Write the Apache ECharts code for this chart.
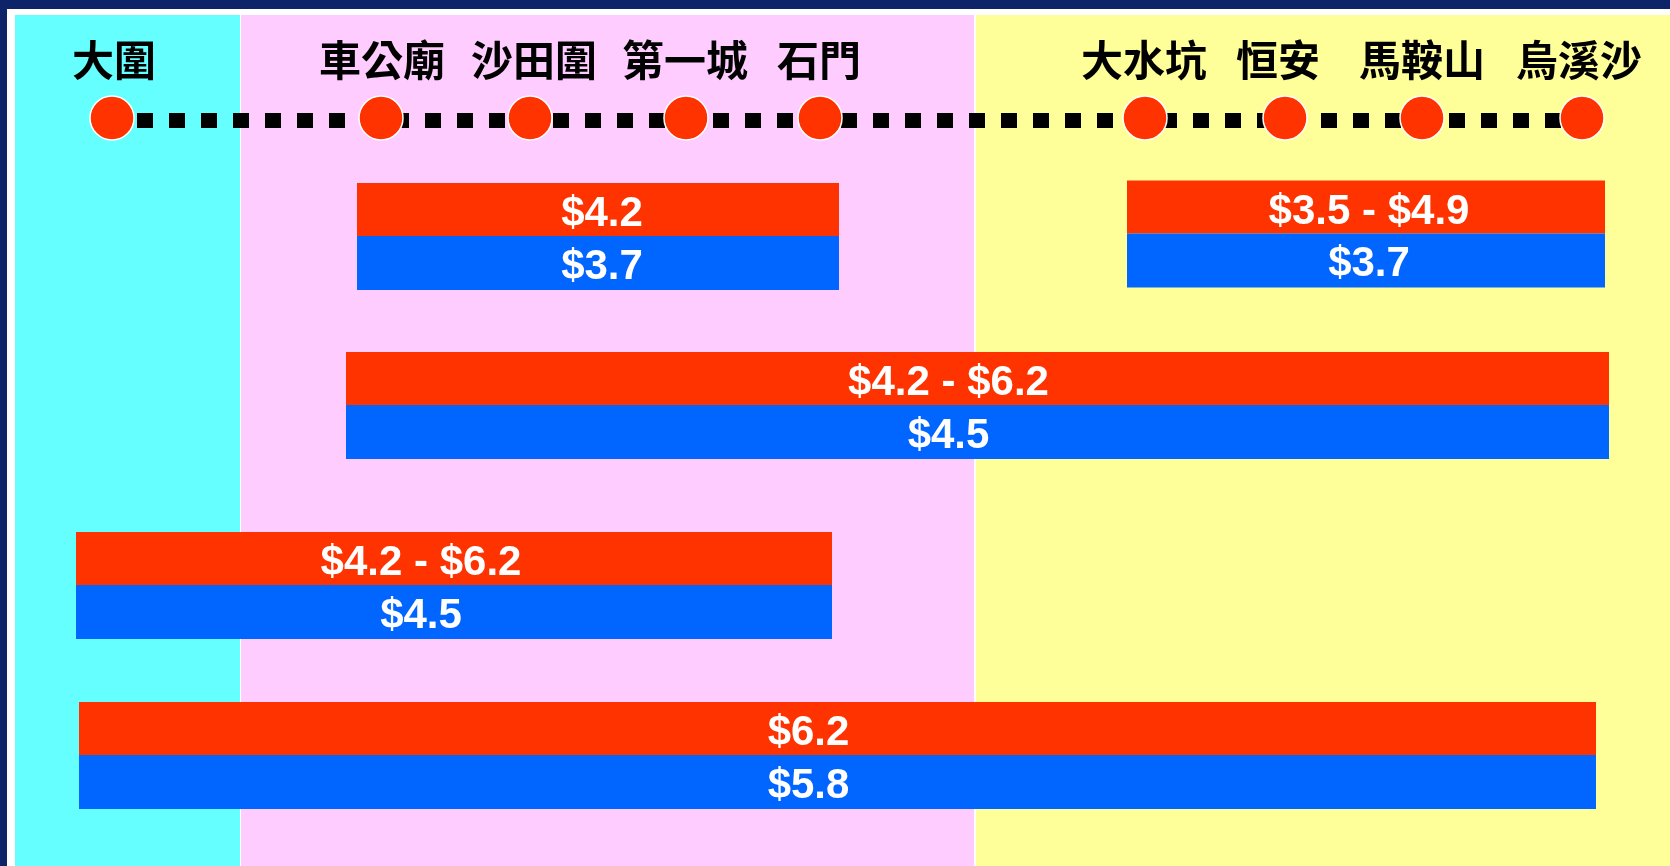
<!DOCTYPE html>
<html>
<head>
<meta charset="utf-8">
<script src="https://cdn.jsdelivr.net/npm/echarts@6/dist/echarts.min.js"></script>
<style>
  html, body { margin: 0; padding: 0; background: #fff; }
  #fareChart { width: 1670px; height: 866px; }
</style>
</head>
<body>
<div id="fareChart"></div>
<script>
// stations along the line, left to right, and where each sits on the strip
var stations = ['大圍', '車公廟', '沙田圍', '第一城', '石門', '大水坑', '恒安', '馬鞍山', '烏溪沙'];
var stationPos = [112, 381, 530, 686, 820, 1145, 1285, 1422, 1582];

// fare zones (cyan / pink / yellow), start and end on the strip
var zoneStart = [15, 241, 976];
var zoneEnd = [240, 974, 1670];

// fare sections: how far each bar reaches along the strip
var fareFrom = [357, 1127, 346, 76, 79];
var fareTo = [839, 1605, 1609, 832, 1596];
var topFare = ['$4.2', '$3.5 - $4.9', '$4.2 - $6.2', '$4.2 - $6.2', '$6.2'];
var bottomFare = ['$3.7', '$3.7', '$4.5', '$4.5', '$5.8'];

// layout
var rowY = [236, 233.5, 405, 585, 755];   // red/blue seam of each row
var labelNudge = [4, 3, -29, -33, -29];
var nameNudge = [2, 1, 4, -1, -1, -1, -7, 0, -3];
var TRACK_Y = 120.5, DOT_Y = 118, NAME_OFFSET = -58;
var RED_H = 53, BLUE_H = 54;
var zoneColors = ['#66FFFF', '#FFCCFF', '#FFFF99'];

var chart = echarts.init(document.getElementById('fareChart'));

var zones = [];
for (var i = 0; i < zoneStart.length; i++) {
    zones.push([
        { xAxis: zoneStart[i], itemStyle: { color: zoneColors[i], opacity: 1 } },
        { xAxis: zoneEnd[i] }
    ]);
}

var track = [], dots = [], fares = [];
for (var i = 0; i < stations.length; i++) {
    track.push([stationPos[i], TRACK_Y]);
    dots.push({
        name: stations[i],
        value: [stationPos[i], DOT_Y],
        label: { offset: [nameNudge[i], NAME_OFFSET] }
    });
}
for (var i = 0; i < fareFrom.length; i++) {
    fares.push([fareFrom[i], fareTo[i], rowY[i]]);
}

function renderFare(params, api) {
    var i = params.dataIndex;
    var a = api.coord([api.value(0), api.value(2)]);
    var b = api.coord([api.value(1), api.value(2)]);
    var w = b[0] - a[0];
    var cx = (a[0] + b[0]) / 2 + labelNudge[i];
    var font = 'bold 42px "Liberation Sans", Arial, sans-serif';
    return {
        type: 'group',
        children: [
            { type: 'rect', shape: { x: a[0], y: a[1] - RED_H, width: w, height: RED_H }, style: { fill: '#FF3300' } },
            { type: 'rect', shape: { x: a[0], y: a[1], width: w, height: BLUE_H }, style: { fill: '#0066FF' } },
            { type: 'text', x: cx, y: a[1] - RED_H / 2 + 5,
              style: { text: topFare[i], fill: '#fff', font: font, align: 'center', verticalAlign: 'middle' } },
            { type: 'text', x: cx, y: a[1] + BLUE_H / 2 + 4,
              style: { text: bottomFare[i], fill: '#fff', font: font, align: 'center', verticalAlign: 'middle' } }
        ]
    };
}

var option = {
    backgroundColor: '#fff',
    animation: false,
    grid: { left: 15, top: 15, right: 0, bottom: 0 },
    xAxis: { type: 'value', min: 15, max: 1670, show: false },
    yAxis: { type: 'value', min: 15, max: 866, inverse: true, show: false },
    graphic: [
        { type: 'rect', left: 0, top: 0, shape: { width: 1670, height: 9 }, style: { fill: '#0D2568' } },
        { type: 'rect', left: 0, top: 0, shape: { width: 7, height: 866 }, style: { fill: '#0D2568' } }
    ],
    series: [
        {
            type: 'line',
            data: track,
            symbol: 'none',
            silent: true,
            lineStyle: { color: '#000', width: 15, type: [16, 16], dashOffset: 7, cap: 'butt' },
            markArea: { silent: true, data: zones },
            z: 2
        },
        {
            type: 'scatter',
            data: dots,
            symbol: 'circle',
            symbolSize: 44,
            itemStyle: { color: '#FF3300', borderColor: '#fff', borderWidth: 1.5, opacity: 1 },
            label: {
                show: true,
                position: 'inside',
                formatter: '{b}',
                color: '#000',
                fontSize: 42,
                fontWeight: 'bold',
                fontFamily: '"Noto Sans CJK TC", "Noto Sans CJK SC", sans-serif'
            },
            z: 3
        },
        {
            type: 'custom',
            renderItem: renderFare,
            data: fares,
            encode: { x: [0, 1], y: 2 },
            z: 4
        }
    ]
};
chart.setOption(option);
</script>
</body>
</html>
